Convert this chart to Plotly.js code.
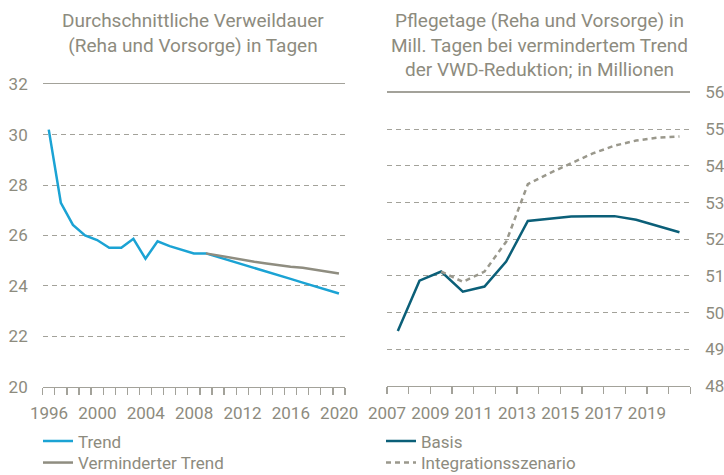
<!DOCTYPE html>
<html>
<head>
<meta charset="utf-8">
<script src="https://cdn.plot.ly/plotly-3.0.1.min.js"></script>
<style>html,body{margin:0;padding:0;background:#fff}#chart{width:724px;height:475px}</style>
</head>
<body>
<div id="chart"></div>
<script>
// Left panel: Durchschnittliche Verweildauer
const yearsTrend = [1996,1997,1998,1999,2000,2001,2002,2003,2004,2005,2006,2007,2008,2009,2010,2011,2012,2013,2014,2015,2016,2017,2018,2019,2020];
const trendValues = [30.2,27.3,26.42,26.0,25.82,25.51,25.51,25.87,25.08,25.77,25.58,25.43,25.29,25.29,25.15,25.0,24.85,24.7,24.58,24.43,24.28,24.13,23.98,23.83,23.7];
const yearsReduced = [2009,2010,2011,2012,2013,2014,2015,2016,2017,2018,2019,2020];
const reducedValues = [25.29,25.2,25.12,25.04,24.96,24.89,24.82,24.76,24.72,24.65,24.57,24.49];
const leftTickVals = [1996,2000,2004,2008,2012,2016,2020];
const leftYTicks = [20,22,24,26,28,30,32];

// Right panel: Pflegetage
const yearsBasis = [2007,2008,2009,2010,2011,2012,2013,2014,2015,2016,2017,2018,2019,2020];
const basisValues = [49.5,50.87,51.12,50.57,50.71,51.39,52.5,52.57,52.62,52.63,52.63,52.53,52.37,52.19];
const yearsIntegration = [2009,2010,2011,2012,2013,2014,2015,2016,2017,2018,2019,2020];
const integrationValues = [51.12,50.84,51.12,51.93,53.5,53.8,54.07,54.34,54.55,54.69,54.77,54.8];
const rightTickVals = [2007,2009,2011,2013,2015,2017,2019];
const rightYTicks = [48,49,50,51,52,53,54,55,56];

const titleLeft = 'Durchschnittliche Verweildauer<br>(Reha und Vorsorge) in Tagen';
const titleRight = 'Pflegetage (Reha und Vorsorge) in<br>Mill. Tagen bei vermindertem Trend<br>der VWD-Reduktion; in Millionen';

const FONT = 'Roboto, "Open Sans", sans-serif';
const TXT = '#8d8b7e';
const GRID = '#a3a29a';

// tick marks sit on the year boundaries; labels are moved to the year centres
function boundaries(first, last) { const r = []; for (let v = first; v <= last + 1; v++) r.push(v - 0.5); return r; }
function boundaryLabels(bounds, labelYears, prefix) {
  return bounds.map(b => labelYears.includes(b + 0.5) ? prefix + String(b + 0.5) : '');
}
const leftBounds = boundaries(yearsTrend[0], yearsTrend[yearsTrend.length - 1]);
const rightBounds = boundaries(yearsBasis[0], yearsBasis[yearsBasis.length - 1]);

const traces = [
  {x: yearsTrend, y: trendValues, name: 'Trend', type: 'scatter', mode: 'lines',
   line: {color: '#1ba3d4', width: 2.5}, xaxis: 'x', yaxis: 'y', legend: 'legend'},
  {x: yearsReduced, y: reducedValues, name: 'Verminderter Trend', type: 'scatter', mode: 'lines',
   line: {color: '#8f8d80', width: 2.5}, xaxis: 'x', yaxis: 'y', legend: 'legend2'},
  {x: yearsBasis, y: basisValues, name: 'Basis', type: 'scatter', mode: 'lines',
   line: {color: '#0b5f78', width: 2.5}, xaxis: 'x2', yaxis: 'y2', legend: 'legend3'},
  {x: yearsIntegration, y: integrationValues, name: 'Integrationsszenario', type: 'scatter', mode: 'lines',
   line: {color: '#9a988c', width: 2.5, dash: '5px,4px'}, xaxis: 'x2', yaxis: 'y2', legend: 'legend4'}
];

const leftDomain = [42.7/724, 345/724];
const rightDomain = [387/724, 690.3/724];
const leftRange = [1995.5, 2020.5];
const rightRange = [2006.5, 2020.5];
const pxPerYearRight = (rightDomain[1] - rightDomain[0]) * 724 / (rightRange[1] - rightRange[0]);

const xCommon = {
  showgrid: false, zeroline: false, showline: true, mirror: true, linecolor: '#a3a29a', linewidth: 1.3,
  ticks: 'outside', ticklen: 7, tickwidth: 1.3, tickcolor: '#a3a29a',
  tickfont: {family: FONT, size: 17, color: TXT}, ticklabelstandoff: 4,
  tickmode: 'array', fixedrange: true, tickangle: 0
};
const yCommon = {
  showgrid: true, gridcolor: GRID, gridwidth: 1, griddash: '5px,4px', zeroline: false, showline: false,
  ticks: '', tickfont: {family: FONT, size: 17, color: TXT}, ticklabelstandoff: 14, fixedrange: true
};

function legendAt(xPx, yTopPx) {
  return {x: xPx/724, y: 1 - yTopPx/475, xanchor: 'left', yanchor: 'top', bgcolor: 'rgba(0,0,0,0)',
    font: {family: FONT, size: 17, color: TXT}, itemwidth: 30, tracegroupgap: 0};
}

const NB = '\u00a0';
const layout = {
  width: 724, height: 475,
  margin: {l: 0, r: 0, t: 0, b: 0, autoexpand: false},
  paper_bgcolor: '#ffffff', plot_bgcolor: '#ffffff',
  font: {family: FONT, color: TXT},
  xaxis: Object.assign({}, xCommon, {domain: leftDomain, range: leftRange, anchor: 'y',
    tickvals: leftBounds, ticktext: boundaryLabels(leftBounds, leftTickVals, NB + NB + NB)}),
  yaxis: Object.assign({}, yCommon, {
    domain: [1 - 386.7/475, 1 - 84.3/475], range: [20, 32], anchor: 'x',
    tickmode: 'array', tickvals: leftYTicks, ticktext: leftYTicks.map(String)
  }),
  xaxis2: Object.assign({}, xCommon, {domain: rightDomain, range: rightRange, anchor: 'y2',
    tickvals: rightBounds, ticktext: boundaryLabels(rightBounds, rightTickVals, ''), ticklabelshift: pxPerYearRight / 2}),
  yaxis2: Object.assign({}, yCommon, {
    domain: [1 - 386/475, 1 - 92.5/475], range: [48, 56], anchor: 'x2', side: 'right',
    tickmode: 'array', tickvals: rightYTicks, ticktext: rightYTicks.map(String)
  }),
  showlegend: true,
  legend: legendAt(38, 423.5),
  legend2: legendAt(38, 445),
  legend3: legendAt(381, 423.5),
  legend4: legendAt(381, 445),
  annotations: [
    {text: titleLeft, xref: 'paper', yref: 'paper', x: 193/724, y: 1 - 7/475, xanchor: 'center', yanchor: 'top',
     showarrow: false, align: 'center', font: {family: FONT, size: 19, color: TXT}},
    {text: titleRight, xref: 'paper', yref: 'paper', x: 539/724, y: 1 - 7/475, xanchor: 'center', yanchor: 'top',
     showarrow: false, align: 'center', font: {family: FONT, size: 19, color: TXT}}
  ]
};

Plotly.newPlot('chart', traces, layout, {displayModeBar: false, staticPlot: true});
</script>
</body>
</html>
